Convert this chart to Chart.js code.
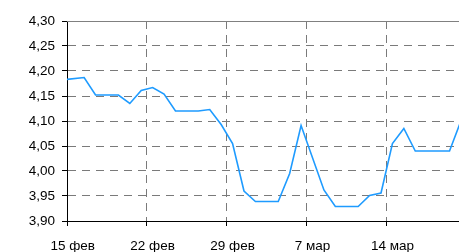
<!DOCTYPE html>
<html>
<head>
<meta charset="utf-8">
<script src="https://cdn.jsdelivr.net/npm/chart.js@4/dist/chart.umd.min.js"></script>
<style>
html,body{margin:0;padding:0;background:#fff;}
#wrap{width:459px;height:252px;position:relative;}
</style>
</head>
<body>
<div id="wrap"><canvas id="c"></canvas></div>
<script>
// day offsets from 15 Feb (point sits mid-day)
const days = [-0.5, 1.5, 2.5, 4.5, 5.5, 6.5, 7.5, 8.5, 9.5, 11.5, 12.5, 13.5, 14.5, 15.5, 16.5, 18.5, 19.5, 20.5, 22.5, 23.5, 25.5, 26.5, 27.5, 28.5, 29.5, 30.5, 33.5, 34.5];
const rates = [4.182, 4.187, 4.152, 4.152, 4.135, 4.161, 4.167, 4.154, 4.120, 4.120, 4.123, 4.093, 4.055, 3.960, 3.939, 3.939, 3.995, 4.091, 3.962, 3.929, 3.929, 3.951, 3.956, 4.055, 4.085, 4.040, 4.040, 4.100];
const xTickDays = [0, 7, 14, 21, 28];
const xTickLabels = ['15 фев', '22 фев', '29 фев', '7 мар', '14 мар'];
const yMin = 3.90, yMax = 4.30, yStep = 0.05;

const points = days.map((d, i) => ({x: d, y: rates[i]}));
const FONT = {family: "'Liberation Sans', Arial, sans-serif", size: 13.5};

const topBorder = {
  id: 'topBorder',
  afterDraw(chart) {
    const {ctx, chartArea} = chart;
    ctx.save();
    ctx.strokeStyle = '#808080';
    ctx.lineWidth = 1;
    ctx.beginPath();
    ctx.moveTo(chartArea.left, Math.round(chartArea.top) + 0.5);
    ctx.lineTo(chartArea.right, Math.round(chartArea.top) + 0.5);
    ctx.stroke();
    ctx.restore();
  }
};

new Chart(document.getElementById('c'), {
  type: 'line',
  data: {
    datasets: [{
      data: points,
      borderColor: '#1e9bff',
      borderWidth: 1.6,
      pointRadius: 0,
      tension: 0,
      fill: false
    }]
  },
  options: {
    responsive: true,
    maintainAspectRatio: false,
    animation: false,
    layout: {padding: {top: 21, right: 0, left: 0, bottom: 0}},
    plugins: {legend: {display: false}, tooltip: {enabled: false}},
    scales: {
      x: {
        type: 'linear',
        min: 0,
        max: 34.33,
        afterBuildTicks: s => { s.ticks = xTickDays.map(v => ({value: v})); },
        afterFit: s => { s.height = 31; },
        ticks: {
          callback: (v) => { const i = xTickDays.indexOf(v); return i >= 0 ? xTickLabels[i] : ''; },
          color: '#000',
          font: FONT,
          padding: 12,
          labelOffset: 5.7,
          maxRotation: 0,
          autoSkip: false
        },
        grid: {color: '#7a7a7a', tickColor: '#000', tickLength: 5, tickBorderDash: []},
        border: {color: '#000', width: 1, dash: [8, 6]}
      },
      y: {
        min: yMin,
        max: yMax,
        afterFit: s => { s.width = 67; },
        ticks: {
          stepSize: yStep,
          color: '#000',
          font: FONT,
          padding: 7,
          callback: v => v.toFixed(2).replace('.', ',')
        },
        grid: {color: '#7a7a7a', tickColor: '#000', tickLength: 5, tickBorderDash: []},
        border: {color: '#000', width: 1, dash: [8, 6]}
      }
    }
  },
  plugins: [topBorder]
});
</script>
</body>
</html>
